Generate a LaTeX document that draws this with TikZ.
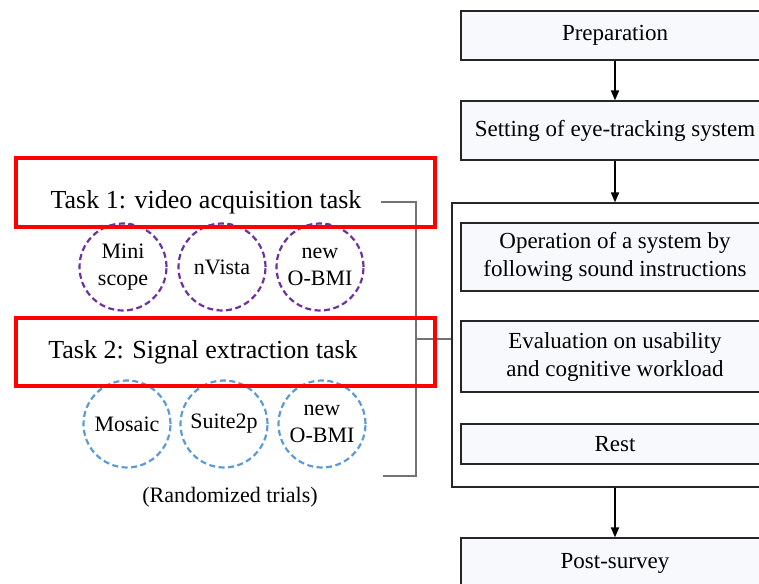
\documentclass[tikz,border=0pt]{standalone}
\usepackage{fontspec}
\setmainfont{Liberation Serif}
\usetikzlibrary{arrows.meta}
\definecolor{boxfill}{HTML}{F7F9FC}
\definecolor{trialpurple}{HTML}{7030A0}
\definecolor{trialblue}{HTML}{5B9BD5}
\definecolor{taskred}{HTML}{FF0000}
\begin{document}
\begin{tikzpicture}[x=1pt,y=-1pt,
    flowbox/.style={draw=black!85,line width=1.2pt,fill=boxfill,minimum width=308pt,inner sep=0pt,align=center,font=\fontsize{23}{28}\selectfont},
    groupbox/.style={draw=black!85,line width=1.2pt,fill=white,minimum width=326pt,minimum height=284pt,inner sep=0pt},
    flowarrow/.style={-{Triangle[width=8pt,length=10pt]},line width=1.8pt},
    tasklabel/.style={font=\fontsize{26}{30}\selectfont,anchor=base},
    taskframe/.style={draw=taskred,line width=3.8pt,minimum width=419pt,inner sep=0pt},
    trial/.style={circle,dash pattern=on 6pt off 3.5pt,line width=2.2pt,minimum size=87pt,inner sep=0pt,align=center,font=\fontsize{22}{27}\selectfont},
    bracketline/.style={draw=black!55,line width=1.1pt}]
        \useasboundingbox (0,0) rectangle (759,583);
        \node[groupbox] (group) at (615,345) {};
        \node[flowbox,minimum height=49pt] (prep) at (615,35.5) {Preparation};
        \node[flowbox,minimum height=59pt] (setting) at (615,130.5) {Setting of eye-tracking system};
        \node[flowbox,minimum height=68pt] (oper) at (615,257) {Operation of a system by\\following sound instructions};
        \node[flowbox,minimum height=71pt] (eval) at (615,356.5) {Evaluation on usability\\and cognitive workload};
        \node[flowbox,minimum height=40pt] (rest) at (615,444) {Rest};
        \node[flowbox,minimum height=50pt] (post) at (615,563) {Post-survey};
        \draw[flowarrow] (prep) -- (setting);
        \draw[flowarrow] (setting) -- (group);
        \draw[flowarrow] (group) -- (post);
        \node[tasklabel] (task1) at (206,208) {Task 1: video acquisition task};
        \node[tasklabel] (task2) at (203,358) {Task 2: Signal extraction task};
        \node[trial,draw=trialpurple] (mini) at (123,267) {Mini\\scope};
        \node[trial,draw=trialpurple] (nvista) at (222,267) {nVista};
        \node[trial,draw=trialpurple] (obmione) at (320,267) {new\\O-BMI};
        \node[trial,draw=trialblue] (mosaic) at (127,424) {Mosaic};
        \node[trial,draw=trialblue] (suite) at (224,424) {Suite2p};
        \node[trial,draw=trialblue] (obmitwo) at (322,424) {new\\O-BMI};
        \node[font=\fontsize{22}{26}\selectfont] (random) at (230,497) {(Randomized trials)};
        \coordinate (btop) at (381,202);
        \coordinate (bmid) at (416,339);
        \coordinate (bbot) at (383,476);
        \draw[bracketline] (btop) -- (btop -| bmid) -- (bbot -| bmid) -- (bbot);
        \draw[bracketline] (bmid) -- (bmid -| group.west);
        \node[taskframe,minimum height=69pt] (frameone) at (225.5,192.5) {};
        \node[taskframe,minimum height=68pt] (frametwo) at (225.5,352) {};
\end{tikzpicture}
\end{document}
